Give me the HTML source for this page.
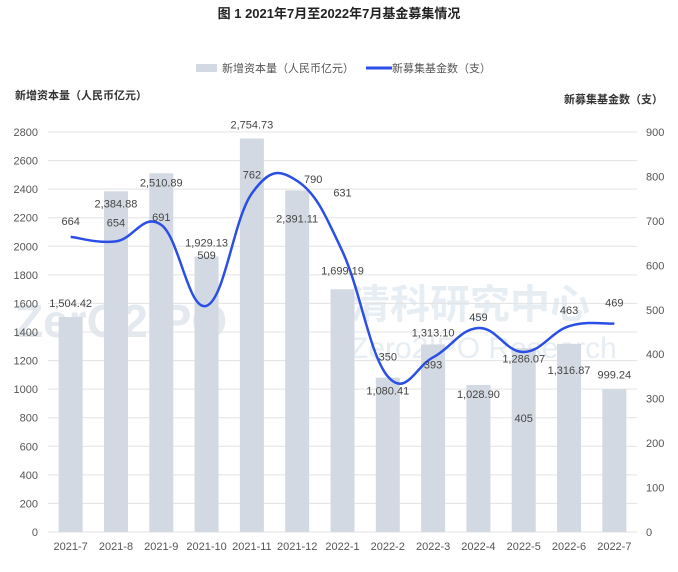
<!DOCTYPE html>
<html><head><meta charset="utf-8"><style>
body{margin:0;background:#fff;width:678px;height:567px;overflow:hidden;font-family:"Liberation Sans","Noto Sans CJK SC",sans-serif;}
</style></head><body>
<svg id="c" width="678" height="567" xmlns="http://www.w3.org/2000/svg">
<text x="339" y="18" text-anchor="middle" font-size="13" font-weight="bold" fill="#222">图 1 2021年7月至2022年7月基金募集情况</text>
<g>
<rect x="196" y="64" width="21" height="8" fill="#d3d9e2"/>
<text x="222" y="72" font-size="11" fill="#555">新增资本量（人民币亿元）</text>
<line x1="366" y1="68" x2="392" y2="68" stroke="#2b4ee6" stroke-width="3"/>
<text x="392" y="72" font-size="11" fill="#555">新募集基金数（支）</text>
</g>
<text x="15" y="99" font-size="11" font-weight="bold" fill="#333">新增资本量（人民币亿元）</text>
<text x="663" y="103" text-anchor="end" font-size="11" font-weight="bold" fill="#333">新募集基金数（支）</text>
<g id="wm" opacity="0.28">
<text x="15" y="337" font-size="46" font-weight="bold" fill="#9fb3c8">ZerO2IPO</text>
<text x="350" y="318" font-size="40" font-weight="bold" fill="#a9bfd6">清科研究中心</text>
<text x="350" y="358" font-size="30" fill="#a9bfd6">Zero2IPO Research</text>
</g>
<g id="g"></g>
</svg>
<script>
const categories=["2021-7","2021-8","2021-9","2021-10","2021-11","2021-12","2022-1","2022-2","2022-3","2022-4","2022-5","2022-6","2022-7"];
const capital=[1504.42,2384.88,2510.89,1929.13,2754.73,2391.11,1699.19,1080.41,1313.10,1028.90,1286.07,1316.87,999.24];
const funds=[664,654,691,509,762,790,631,350,393,459,405,463,469];
const leftTicks=[0,200,400,600,800,1000,1200,1400,1600,1800,2000,2200,2400,2600,2800];
const rightTicks=[0,100,200,300,400,500,600,700,800,900];
// label placement offsets (pixels, layout only)
const barLabelDy=[-13,16,13,-13,-13,32,-18,17,-11,13,14,30,-14];
const lineLabelDy=[-16,-19,-8,-51,-19,-2,-59,-20,7,-11,66,-16,-21];
const lineLabelDx=[0,0,0,0,0,16,0,0,0,0,0,0,0];
const NS="http://www.w3.org/2000/svg";
const g=document.getElementById('g');
const X0=48,X1=637,Y0=532,Y1=132;
const band=(X1-X0)/categories.length;
const xc=i=>X0+band*(i+0.5);
const yl=v=>Y0-(v/2800)*(Y0-Y1);
const yr=v=>Y0-(v/900)*(Y0-Y1);
function mk(t,a){const e=document.createElementNS(NS,t);for(const k in a)e.setAttribute(k,a[k]);g.appendChild(e);return e;}
leftTicks.forEach(v=>{
 const l=mk('line',{x1:X0,x2:X1,y1:yl(v),y2:yl(v),stroke:'#e3e3e3'});
 
 
 const t=mk('text',{x:38,y:yl(v)+4,'text-anchor':'end','font-size':11,fill:'#555'});t.textContent=v;
 
 
});
rightTicks.forEach(v=>{
 const t=mk('text',{x:646,y:yr(v)+4,'font-size':11,fill:'#555'});t.textContent=v;
 
 
});
capital.forEach((v,i)=>{
 const r=mk('rect',{x:xc(i)-12,y:yl(v),width:24,height:Y0-yl(v),fill:'#d3d9e2'});
 
 
 const c=mk('text',{x:xc(i),y:550,'text-anchor':'middle','font-size':11,fill:'#555'});c.textContent=categories[i];
 
 
});
const pts=funds.map((v,i)=>[xc(i),yr(v)]);
let d='M'+pts[0][0]+','+pts[0][1];
for(let i=0;i<pts.length-1;i++){
 const p0=pts[Math.max(0,i-1)],p1=pts[i],p2=pts[i+1],p3=pts[Math.min(pts.length-1,i+2)];
 const k=0.2;
 d+=' C'+(p1[0]+(p2[0]-p0[0])*k)+','+(p1[1]+(p2[1]-p0[1])*k)+' '+(p2[0]-(p3[0]-p1[0])*k)+','+(p2[1]-(p3[1]-p1[1])*k)+' '+p2[0]+','+p2[1];
}
const path=mk('path',{d:d,fill:'none',stroke:'#2b4ee6','stroke-width':2.5});


capital.forEach((v,i)=>{
 const t=mk('text',{x:xc(i),y:yl(v)+barLabelDy[i]+(barLabelDy[i]<0?3:0),'text-anchor':'middle','font-size':11,fill:'#444'});
 t.textContent=v.toLocaleString('en-US',{minimumFractionDigits:2,maximumFractionDigits:2});
 
 
});
funds.forEach((v,i)=>{
 const t=mk('text',{x:xc(i)+lineLabelDx[i],y:yr(v)+lineLabelDy[i]+4,'text-anchor':'middle','font-size':11,fill:'#444'});t.textContent=v;
 
 
});
</script>
</body></html>
